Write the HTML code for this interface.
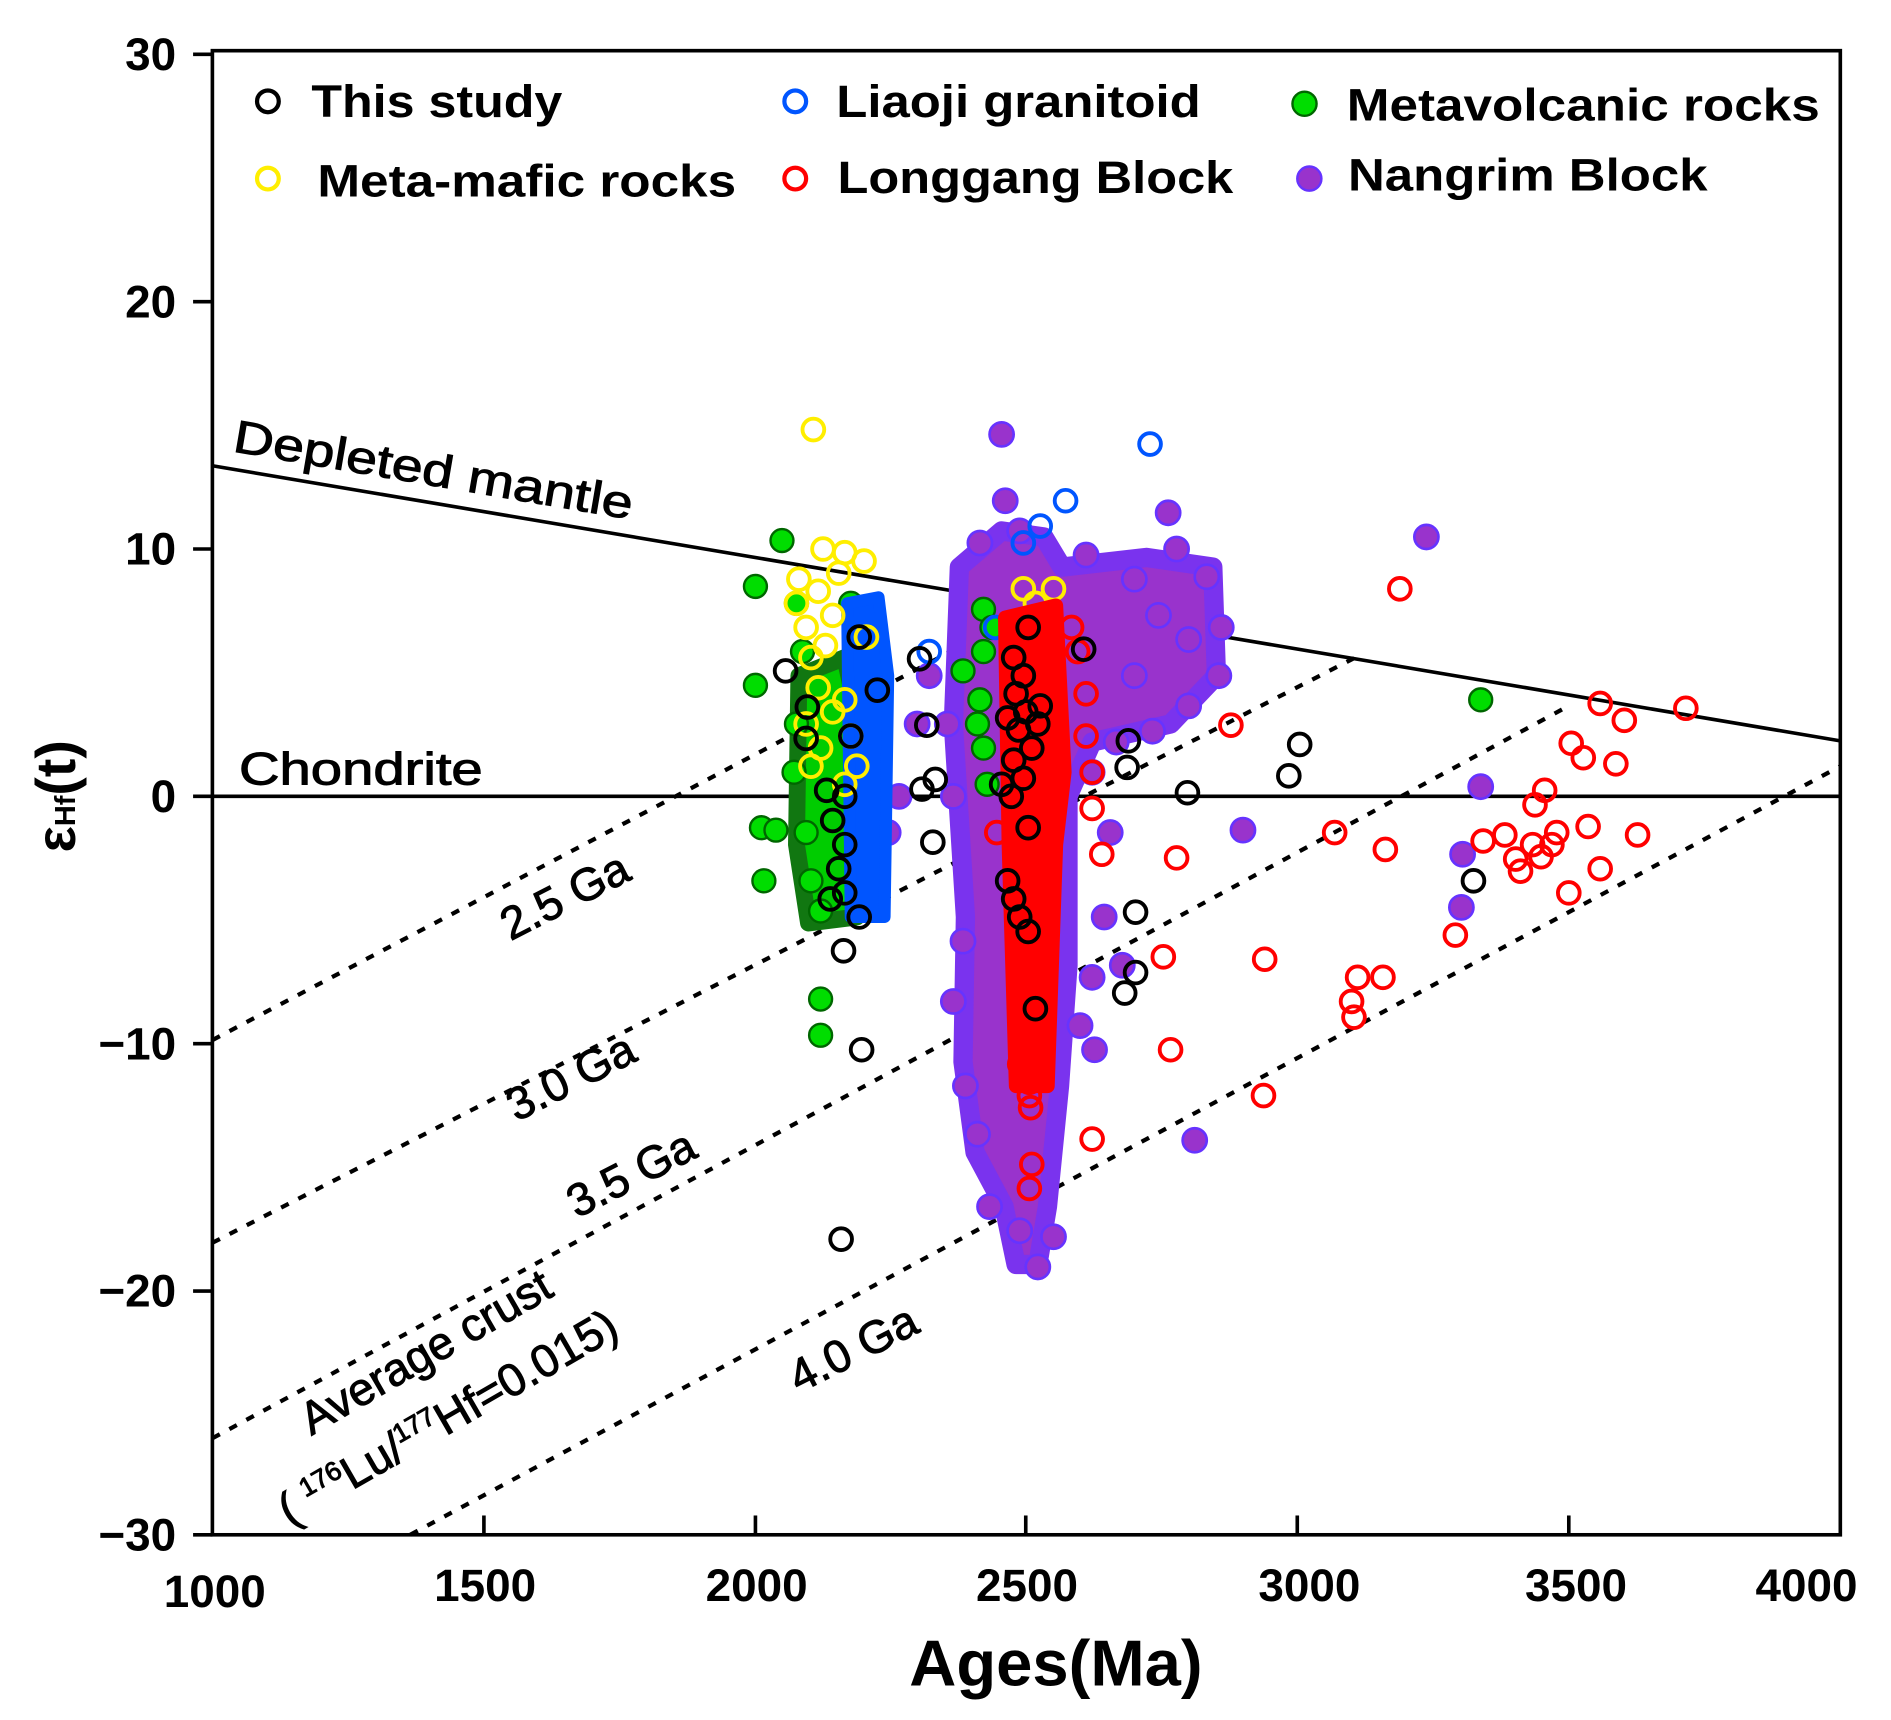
<!DOCTYPE html>
<html><head><meta charset="utf-8"><style>
html,body{margin:0;padding:0;background:#fff;}
svg{display:block;}
text{font-family:"Liberation Sans",Arial,sans-serif;}
</style></head><body>
<svg width="1891" height="1720" viewBox="0 0 1567 1425.5" preserveAspectRatio="none" xmlns="http://www.w3.org/2000/svg">
<defs>
<circle id="k" r="9" fill="none" stroke="#000" stroke-width="3.2"/>
<circle id="b" r="9" fill="none" stroke="#0055ff" stroke-width="3.2"/>
<circle id="y" r="9" fill="none" stroke="#ffee00" stroke-width="3.2"/>
<circle id="r" r="9" fill="none" stroke="#ff0000" stroke-width="3.2"/>
<circle id="g" r="9.5" fill="#00dd00" stroke="#006600" stroke-width="2"/>
<circle id="p" r="10" fill="#9933cc" stroke="#6633ff" stroke-width="2.2"/>
</defs>
<rect width="1567" height="1426" fill="#fff"/>
<g stroke="#000" fill="none">
<line x1="176" y1="386" x2="1525" y2="614" stroke-width="3"/>
<line x1="176" y1="660" x2="1525" y2="660" stroke-width="3"/>
<g stroke-width="3.5" stroke-dasharray="7,9">
<line x1="176" y1="862" x2="860" y2="502"/>
<line x1="176" y1="1030" x2="1123" y2="545"/>
<line x1="176" y1="1192" x2="1300" y2="585"/>
<line x1="340" y1="1272" x2="1525" y2="635"/>
</g>
</g>
<path d="M795 470 L830 440 L865 445 L880 470 L950 462 L1005 470 L1008 560 L970 600 L905 615 L885 660 L885 800 L878 900 L868 1000 L860 1048 L842 1048 L832 1000 L808 955 L798 880 L800 760 L795 680 L790 600 Z" fill="#9933cc" stroke="#7a33ee" stroke-width="16" stroke-linejoin="round"/>
<g>
<use href="#p" x="830" y="360"/><use href="#p" x="833" y="415"/><use href="#p" x="968" y="425"/><use href="#p" x="1182" y="445"/>
<use href="#p" x="1227" y="652"/><use href="#p" x="1212" y="708"/><use href="#p" x="1211" y="752"/><use href="#p" x="1030" y="688"/>
<use href="#p" x="810" y="940"/><use href="#p" x="990" y="945"/><use href="#p" x="907" y="870"/><use href="#p" x="736" y="690"/>
<use href="#p" x="900" y="460"/><use href="#p" x="940" y="480"/><use href="#p" x="975" y="455"/><use href="#p" x="1000" y="478"/>
<use href="#p" x="1012" y="520"/><use href="#p" x="1010" y="560"/><use href="#p" x="985" y="585"/><use href="#p" x="955" y="606"/>
<use href="#p" x="925" y="615"/><use href="#p" x="905" y="640"/><use href="#p" x="920" y="690"/><use href="#p" x="915" y="760"/>
<use href="#p" x="930" y="800"/><use href="#p" x="905" y="810"/><use href="#p" x="895" y="850"/><use href="#p" x="798" y="780"/>
<use href="#p" x="790" y="830"/><use href="#p" x="800" y="900"/><use href="#p" x="820" y="1000"/><use href="#p" x="845" y="1020"/>
<use href="#p" x="860" y="1050"/><use href="#p" x="873" y="1025"/><use href="#p" x="785" y="600"/><use href="#p" x="790" y="660"/>
<use href="#p" x="770" y="560"/><use href="#p" x="760" y="600"/><use href="#p" x="745" y="660"/><use href="#p" x="812" y="450"/>
<use href="#p" x="845" y="440"/><use href="#p" x="960" y="510"/><use href="#p" x="985" y="530"/><use href="#p" x="940" y="560"/>
</g>
<path d="M662 560 L700 545 L712 600 L710 760 L670 765 L660 700 Z" fill="#00cc00" stroke="#117711" stroke-width="14" stroke-linejoin="round"/>
<g>
<use href="#g" x="648" y="448"/><use href="#g" x="626" y="486"/><use href="#g" x="626" y="568"/><use href="#g" x="631" y="686"/>
<use href="#g" x="643" y="688"/><use href="#g" x="633" y="730"/><use href="#g" x="680" y="828"/><use href="#g" x="680" y="858"/>
<use href="#g" x="1227" y="580"/><use href="#g" x="798" y="556"/><use href="#g" x="815" y="505"/><use href="#g" x="660" y="500"/>
<use href="#g" x="665" y="540"/><use href="#g" x="660" y="600"/><use href="#g" x="658" y="640"/><use href="#g" x="668" y="690"/>
<use href="#g" x="672" y="730"/><use href="#g" x="680" y="755"/><use href="#g" x="700" y="740"/><use href="#g" x="705" y="500"/>
<use href="#g" x="712" y="560"/><use href="#g" x="815" y="540"/><use href="#g" x="812" y="580"/><use href="#g" x="815" y="620"/>
<use href="#g" x="818" y="650"/><use href="#g" x="810" y="600"/><use href="#g" x="822" y="520"/>
</g>
<path d="M702 500 L728 495 L736 560 L733 760 L705 760 Z" fill="#0055ff" stroke="#0055ff" stroke-width="10" stroke-linejoin="round"/>
<g>
<use href="#b" x="953" y="368"/><use href="#b" x="883" y="415"/><use href="#b" x="862" y="436"/><use href="#b" x="848" y="450"/>
<use href="#b" x="770" y="540"/><use href="#b" x="825" y="520"/><use href="#b" x="862" y="580"/><use href="#b" x="868" y="610"/>
</g>
<g>
<use href="#y" x="674" y="356"/><use href="#y" x="873" y="488"/><use href="#y" x="848" y="488"/><use href="#y" x="858" y="500"/>
<use href="#y" x="682" y="455"/><use href="#y" x="700" y="458"/><use href="#y" x="716" y="465"/><use href="#y" x="662" y="480"/>
<use href="#y" x="660" y="500"/><use href="#y" x="668" y="520"/><use href="#y" x="678" y="490"/><use href="#y" x="690" y="510"/>
<use href="#y" x="672" y="545"/><use href="#y" x="684" y="535"/><use href="#y" x="678" y="570"/><use href="#y" x="690" y="590"/>
<use href="#y" x="668" y="600"/><use href="#y" x="680" y="620"/><use href="#y" x="700" y="580"/><use href="#y" x="705" y="610"/>
<use href="#y" x="710" y="635"/><use href="#y" x="700" y="650"/><use href="#y" x="672" y="635"/><use href="#y" x="695" y="475"/>
<use href="#y" x="718" y="528"/>
</g>
<path d="M833 512 L875 502 L882 640 L875 700 L868 900 L842 900 L836 700 Z" fill="#ff0000" stroke="#ff0000" stroke-width="12" stroke-linejoin="round"/>
<g>
<use href="#r" x="1160" y="488"/><use href="#r" x="1020" y="601"/><use href="#r" x="905" y="670"/><use href="#r" x="913" y="708"/>
<use href="#r" x="975" y="711"/><use href="#r" x="964" y="793"/><use href="#r" x="970" y="870"/><use href="#r" x="1048" y="795"/>
<use href="#r" x="1047" y="908"/><use href="#r" x="905" y="944"/><use href="#r" x="855" y="965"/><use href="#r" x="853" y="985"/>
<use href="#r" x="1106" y="690"/><use href="#r" x="1148" y="704"/><use href="#r" x="1125" y="810"/><use href="#r" x="1120" y="830"/>
<use href="#r" x="1122" y="843"/><use href="#r" x="1146" y="810"/><use href="#r" x="1326" y="583"/><use href="#r" x="1346" y="597"/>
<use href="#r" x="1397" y="587"/><use href="#r" x="1302" y="616"/><use href="#r" x="1312" y="628"/><use href="#r" x="1339" y="633"/>
<use href="#r" x="1280" y="655"/><use href="#r" x="1272" y="667"/><use href="#r" x="1229" y="697"/><use href="#r" x="1247" y="692"/>
<use href="#r" x="1256" y="712"/><use href="#r" x="1260" y="722"/><use href="#r" x="1270" y="700"/><use href="#r" x="1290" y="690"/>
<use href="#r" x="1286" y="700"/><use href="#r" x="1277" y="710"/><use href="#r" x="1316" y="685"/><use href="#r" x="1357" y="692"/>
<use href="#r" x="1300" y="740"/><use href="#r" x="1326" y="720"/><use href="#r" x="1206" y="775"/><use href="#r" x="852" y="885"/>
<use href="#r" x="853" y="897"/><use href="#r" x="853" y="908"/><use href="#r" x="854" y="918"/><use href="#r" x="845" y="882"/>
<use href="#r" x="826" y="690"/><use href="#r" x="900" y="610"/><use href="#r" x="905" y="640"/><use href="#r" x="893" y="540"/>
<use href="#r" x="900" y="575"/><use href="#r" x="888" y="520"/>
</g>
<g>
<use href="#k" x="651" y="556"/><use href="#k" x="669" y="586"/><use href="#k" x="712" y="528"/><use href="#k" x="727" y="572"/>
<use href="#k" x="762" y="546"/><use href="#k" x="768" y="601"/><use href="#k" x="775" y="646"/><use href="#k" x="764" y="654"/>
<use href="#k" x="773" y="698"/><use href="#k" x="699" y="788"/><use href="#k" x="714" y="870"/><use href="#k" x="697" y="1027"/>
<use href="#k" x="898" y="538"/><use href="#k" x="935" y="614"/><use href="#k" x="934" y="636"/><use href="#k" x="984" y="657"/>
<use href="#k" x="1077" y="617"/><use href="#k" x="1068" y="643"/><use href="#k" x="1221" y="730"/><use href="#k" x="941" y="756"/>
<use href="#k" x="932" y="823"/><use href="#k" x="941" y="806"/><use href="#k" x="858" y="836"/><use href="#k" x="852" y="772"/>
<use href="#k" x="852" y="686"/><use href="#k" x="852" y="520"/><use href="#k" x="668" y="612"/><use href="#k" x="712" y="760"/>
<use href="#k" x="700" y="740"/><use href="#k" x="685" y="655"/><use href="#k" x="690" y="680"/><use href="#k" x="700" y="700"/>
<use href="#k" x="695" y="720"/><use href="#k" x="705" y="610"/><use href="#k" x="700" y="660"/><use href="#k" x="688" y="745"/>
<use href="#k" x="840" y="545"/><use href="#k" x="848" y="560"/><use href="#k" x="842" y="575"/><use href="#k" x="850" y="590"/>
<use href="#k" x="844" y="605"/><use href="#k" x="855" y="620"/><use href="#k" x="840" y="630"/><use href="#k" x="848" y="645"/>
<use href="#k" x="838" y="660"/><use href="#k" x="860" y="600"/><use href="#k" x="862" y="585"/><use href="#k" x="835" y="595"/>
<use href="#k" x="835" y="730"/><use href="#k" x="840" y="745"/><use href="#k" x="845" y="760"/><use href="#k" x="830" y="650"/>
</g>
<g stroke="#000" fill="none" stroke-width="3">
<rect x="176" y="42" width="1349" height="1230"/>
<line x1="160" y1="45" x2="176" y2="45"/>
<line x1="160" y1="250" x2="176" y2="250"/>
<line x1="160" y1="455" x2="176" y2="455"/>
<line x1="160" y1="660" x2="176" y2="660"/>
<line x1="160" y1="865" x2="176" y2="865"/>
<line x1="160" y1="1070" x2="176" y2="1070"/>
<line x1="160" y1="1272" x2="176" y2="1272"/>
<line x1="401" y1="1272" x2="401" y2="1256"/>
<line x1="626" y1="1272" x2="626" y2="1256"/>
<line x1="850" y1="1272" x2="850" y2="1256"/>
<line x1="1075" y1="1272" x2="1075" y2="1256"/>
<line x1="1300" y1="1272" x2="1300" y2="1256"/>
</g>
<g font-size="38" font-weight="bold" text-anchor="end" fill="#000">
<text x="146" y="58">30</text>
<text x="146" y="263">20</text>
<text x="146" y="468">10</text>
<text x="146" y="673">0</text>
<text x="146" y="878">−10</text>
<text x="146" y="1083">−20</text>
<text x="146" y="1285">−30</text>
</g>
<g font-size="38" font-weight="bold" text-anchor="middle" fill="#000">
<text x="178" y="1332">1000</text>
<text x="402" y="1327">1500</text>
<text x="627" y="1327">2000</text>
<text x="851" y="1327">2500</text>
<text x="1085" y="1327">3000</text>
<text x="1306" y="1327">3500</text>
<text x="1497" y="1327">4000</text>
<text x="875" y="1397" font-size="54">Ages(Ma)</text>
</g>
<text transform="translate(62,660) rotate(-90)" font-size="46" font-weight="bold" text-anchor="middle">ε<tspan font-size="24">Hf</tspan>(t)</text>
<g font-size="38" fill="#000" stroke="#000" stroke-width="0.8">
<text transform="translate(192,374) rotate(9.7)" textLength="335" lengthAdjust="spacingAndGlyphs">Depleted mantle</text>
<text x="198" y="650" textLength="202" lengthAdjust="spacingAndGlyphs">Chondrite</text>
<text transform="translate(423,780) rotate(-27)">2.5 Ga</text>
<text transform="translate(428,930) rotate(-27)">3.0 Ga</text>
<text transform="translate(478,1010) rotate(-27)">3.5 Ga</text>
<text transform="translate(662,1155) rotate(-27)">4.0 Ga</text>
<text transform="translate(258,1190) rotate(-30)">Average crust</text>
<text transform="translate(240,1265) rotate(-30)">( <tspan font-size="22" dy="-14">176</tspan><tspan dy="14">Lu/</tspan><tspan font-size="22" dy="-14">177</tspan><tspan dy="14">Hf=0.015)</tspan></text>
</g>
<g stroke-width="3.5" fill="none">
<circle cx="222" cy="84" r="9" stroke="#000"/>
<circle cx="659" cy="84" r="9" stroke="#0055ff"/>
<circle cx="1081" cy="86" r="10" stroke="#006600" fill="#00dd00" stroke-width="2"/>
<circle cx="222" cy="148" r="9" stroke="#ffee00"/>
<circle cx="659" cy="148" r="9" stroke="#ff0000"/>
<circle cx="1085" cy="148" r="10" stroke="#6633ff" fill="#9933cc" stroke-width="2"/>
</g>
<g font-size="38" font-weight="bold" fill="#000">
<text x="258" y="97" textLength="208" lengthAdjust="spacingAndGlyphs">This study</text>
<text x="693" y="97" textLength="302" lengthAdjust="spacingAndGlyphs">Liaoji granitoid</text>
<text x="1116" y="100" textLength="392" lengthAdjust="spacingAndGlyphs">Metavolcanic rocks</text>
<text x="263" y="163" textLength="347" lengthAdjust="spacingAndGlyphs">Meta-mafic rocks</text>
<text x="694" y="160" textLength="328" lengthAdjust="spacingAndGlyphs">Longgang Block</text>
<text x="1117" y="158" textLength="298" lengthAdjust="spacingAndGlyphs">Nangrim Block</text>
</g>
</svg>
</body></html>
